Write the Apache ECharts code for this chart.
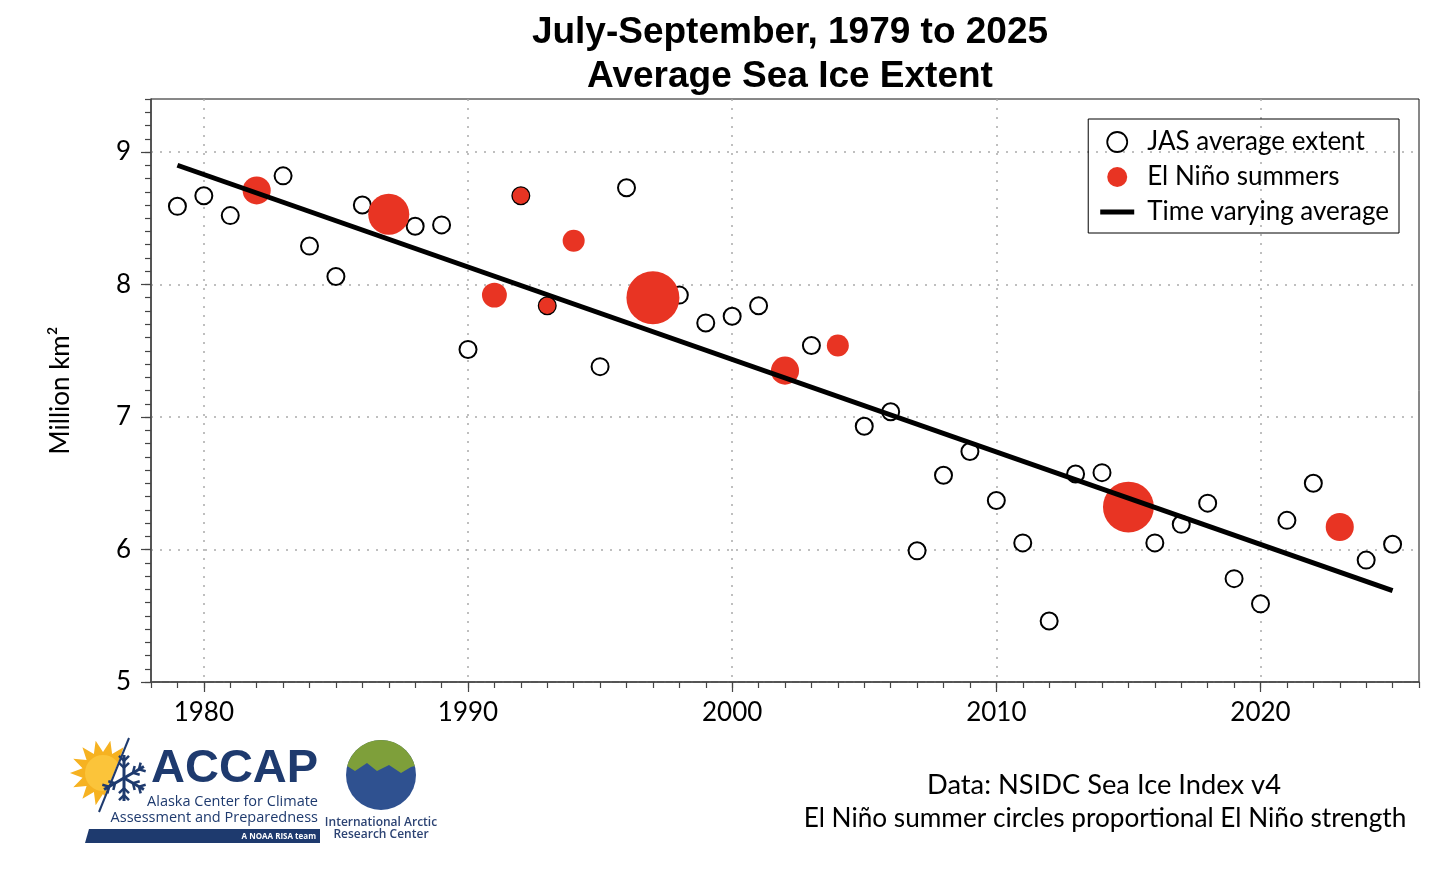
<!DOCTYPE html>
<html lang="en">
<head>
<meta charset="UTF-8">
<title>JAS Sea Ice Extent</title>
<script src="https://cdn.jsdelivr.net/npm/echarts@6.0.0/dist/echarts.min.js"></script>
<style>
    html, body { margin: 0; padding: 0; background: #fff; }
    #main { width: 1456px; height: 874px; }
</style>
</head>
<body>
<div id="main"></div>
<script>
    // July-September average extent, million km2
    var years = [1979, 1980, 1981, 1982, 1983, 1984, 1985, 1986, 1987, 1988,
                 1989, 1990, 1991, 1992, 1993, 1994, 1995, 1996, 1997, 1998,
                 1999, 2000, 2001, 2002, 2003, 2004, 2005, 2006, 2007, 2008,
                 2009, 2010, 2011, 2012, 2013, 2014, 2015, 2016, 2017, 2018,
                 2019, 2020, 2021, 2022, 2023, 2024, 2025];
    var jasExtent = [8.59, 8.67, 8.52, 8.71, 8.82, 8.29, 8.06, 8.60, 8.53, 8.44,
                     8.45, 7.51, 7.92, 8.67, 7.84, 8.33, 7.38, 8.73, 7.90, 7.92,
                     7.71, 7.76, 7.84, 7.35, 7.54, 7.54, 6.93, 7.04, 5.99, 6.56,
                     6.74, 6.37, 6.05, 5.46, 6.57, 6.58, 6.32, 6.05, 6.19, 6.35,
                     5.78, 5.59, 6.22, 6.50, 6.17, 5.92, 6.04];

    // El Nino summers and relative strength (circle diameter ~ strength)
    var elNinoYears = [1982, 1987, 1991, 1992, 1993, 1994, 1997, 2002, 2004, 2015, 2023];
    var elNinoStrength = [1.06, 1.55, 0.94, 0.62, 0.62, 0.83, 2.0, 1.06, 0.83, 1.92, 1.06];

    // time varying average (straight line)
    var trendYears = [1979, 2025];
    var trendValues = [8.90, 5.69];

    var xLabelYears = [1980, 1990, 2000, 2010, 2020];
    var yLabelValues = [5, 6, 7, 8, 9];

    var jasData = years.map(function (y, i) { return [y, jasExtent[i]]; });
    var ninoData = elNinoYears.map(function (y, i) {
        return [y, jasExtent[years.indexOf(y)], elNinoStrength[i]];
    });
    var trendData = trendYears.map(function (y, i) { return [y, trendValues[i]]; });

    var font = 'Lato, "Noto Sans", sans-serif';
    var navy = '#1e3a6e';
    var red = '#e83423';

    // grid box
    var G = { left: 151, right: 37, top: 99, bottom: 192 };
    var gridW = 1456 - G.left - G.right;
    var gridH = 874 - G.top - G.bottom;

    // logo bits (decoration only)
    var logo = [];
    var sc = [103, 773];
    var star = [];
    for (var k = 0; k < 28; k++) {
        var a = Math.PI * 2 * k / 28;
        var r = k % 2 === 0 ? 33 : 21;
        star.push([sc[0] + r * Math.cos(a), sc[1] + r * Math.sin(a)]);
    }
    logo.push({ type: 'polygon', shape: { points: star }, style: { fill: '#f6b221' } });
    logo.push({ type: 'circle', shape: { cx: sc[0], cy: sc[1], r: 18 }, style: { fill: '#fbc43a' } });
    logo.push({ type: 'polygon', shape: { points: [[129, 736], [97, 814], [146, 814], [146, 736]] },
                style: { fill: '#fff' } });
    var fc = [124, 778];
    [-90, -30, 30, 90, 150].forEach(function (deg) {
        var a = deg * Math.PI / 180;
        var ex = fc[0] + 23 * Math.cos(a), ey = fc[1] + 23 * Math.sin(a);
        logo.push({ type: 'line', shape: { x1: fc[0], y1: fc[1], x2: ex, y2: ey },
                    style: { stroke: navy, lineWidth: 3 } });
        [0.45, 0.75].forEach(function (t) {
            var bx = fc[0] + 23 * t * Math.cos(a), by = fc[1] + 23 * t * Math.sin(a);
            [-0.8, 0.8].forEach(function (s) {
                logo.push({ type: 'line', shape: { x1: bx, y1: by,
                    x2: bx + 7 * Math.cos(a + s), y2: by + 7 * Math.sin(a + s) },
                    style: { stroke: navy, lineWidth: 2.5 } });
            });
        });
    });
    logo.push({ type: 'line', shape: { x1: 129, y1: 738, x2: 99, y2: 812 },
                style: { stroke: navy, lineWidth: 2 } });
    logo.push({ type: 'text', left: 151, top: 746,
                style: { text: 'ACCAP', font: 'bold 47px "Liberation Sans", Arial, sans-serif', fill: navy } });
    logo.push({ type: 'text', x: 318, y: 802,
                style: { text: 'Alaska Center for Climate', font: '14.5px "Open Sans", sans-serif',
                         fill: navy, align: 'right', verticalAlign: 'middle' } });
    logo.push({ type: 'text', x: 318, y: 818,
                style: { text: 'Assessment and Preparedness', font: '14.5px "Open Sans", sans-serif',
                         fill: navy, align: 'right', verticalAlign: 'middle' } });
    logo.push({ type: 'polygon', shape: { points: [[89, 829], [320, 829], [320, 843], [85, 843]] },
                style: { fill: navy } });
    logo.push({ type: 'text', x: 316, y: 837,
                style: { text: 'A NOAA RISA team', font: 'bold 8px "Open Sans", sans-serif',
                         fill: '#fff', align: 'right', verticalAlign: 'middle' } });
    // globe
    var gc = [381, 775];
    logo.push({ type: 'circle', shape: { cx: gc[0], cy: gc[1], r: 35 }, style: { fill: '#2f5190' } });
    var land = [];
    for (var d = 195; d <= 345; d += 5) {
        var ra = d * Math.PI / 180;
        land.push([gc[0] + 35 * Math.cos(ra), gc[1] + 35 * Math.sin(ra)]);
    }
    land.push([gc[0] + 30, gc[1] - 8], [gc[0] + 20, gc[1] - 2], [gc[0] + 8, gc[1] - 10],
              [gc[0] - 4, gc[1] - 4], [gc[0] - 14, gc[1] - 12], [gc[0] - 26, gc[1] - 4]);
    logo.push({ type: 'polygon', shape: { points: land }, style: { fill: '#7e9f3a' } });
    logo.push({ type: 'text', x: gc[0], y: 823,
                style: { text: 'International Arctic', font: '600 12px "Open Sans", sans-serif',
                         fill: '#2c4373', align: 'center', verticalAlign: 'middle' } });
    logo.push({ type: 'text', x: gc[0], y: 835,
                style: { text: 'Research Center', font: '600 12px "Open Sans", sans-serif',
                         fill: '#2c4373', align: 'center', verticalAlign: 'middle' } });

    var footer = [
        { type: 'text', x: 1104, y: 785,
          style: { text: 'Data: NSIDC Sea Ice Index v4', font: '27.3px ' + font,
                   fill: '#000', align: 'center', verticalAlign: 'middle' } },
        { type: 'text', x: 1105, y: 819,
          style: { text: 'El Niño summer circles proportional El Niño strength', font: '26.2px ' + font,
                   fill: '#000', align: 'center', verticalAlign: 'middle' } }
    ];

    var chart = echarts.init(document.getElementById('main'));
    var option = {
        animation: false,
        title: {
            text: 'July-September, 1979 to 2025\nAverage Sea Ice Extent',
            left: 785,
            top: 6,
            textAlign: 'center',
            textStyle: {
                fontFamily: '"Liberation Sans", Arial, sans-serif',
                fontWeight: 'bold',
                fontSize: 37,
                lineHeight: 44,
                color: '#000'
            }
        },
        legend: {
            orient: 'vertical',
            right: 57,
            top: 119,
            padding: [10, 10, 8, 12],
            itemWidth: 34,
            itemHeight: 20,
            itemGap: 9,
            borderColor: '#000',
            borderWidth: 1,
            selectedMode: false,
            textStyle: { fontFamily: font, fontSize: 26, lineHeight: 24, color: '#000', padding: [0, 0, 0, 8] },
            data: [
                { name: 'JAS average extent', icon: 'circle',
                  itemStyle: { color: '#fff', borderColor: '#000', borderWidth: 1.8 } },
                { name: 'El Niño summers', icon: 'circle', itemStyle: { color: red, borderWidth: 0 } },
                { name: 'Time varying average', icon: 'path://M0,0H7V1H0Z',
                  itemStyle: { color: '#000', borderWidth: 0 } }
            ]
        },
        grid: {
            left: G.left, right: G.right, top: G.top, bottom: G.bottom,
            show: true, borderColor: '#111', borderWidth: 1
        },
        xAxis: [
            {   // yearly ticks + labels
                type: 'value', min: 1978, max: 2026, interval: 1, position: 'bottom',
                axisLine: { lineStyle: { color: '#444', width: 1.5 } },
                axisTick: { length: 6, lineStyle: { color: '#444', width: 1.2 } },
                axisLabel: { customValues: xLabelYears, margin: 18, fontSize: 26,
                             fontFamily: font, color: '#000',
                             formatter: function (v) { return String(v); } },
                splitLine: { show: false }
            },
            {   // decade ticks and grid lines, moved down onto the bottom edge
                type: 'value', min: 1978, max: 2026, interval: 1, position: 'top', offset: -gridH,
                axisLine: { show: false },
                axisTick: { inside: true, length: 10, customValues: xLabelYears,
                            lineStyle: { color: '#444', width: 1.2 } },
                axisLabel: { show: false },
                splitLine: { show: true, lineStyle: { color: '#aaa', width: 1.5, type: [2, 7] } }
            }
        ],
        yAxis: [
            {
                type: 'value', min: 5, max: 9.4, interval: 0.1, position: 'left',
                name: 'Million km²', nameLocation: 'middle', nameGap: 77, nameRotate: 90,
                nameTextStyle: { fontFamily: font, fontSize: 26, color: '#000' },
                axisLine: { lineStyle: { color: '#444', width: 1.5 } },
                axisTick: { length: 6, lineStyle: { color: '#444', width: 1.2 } },
                axisLabel: { customValues: yLabelValues, margin: 20, fontSize: 26,
                             fontFamily: font, color: '#000' },
                splitLine: { show: false }
            },
            {
                type: 'value', min: 5, max: 9.4, interval: 0.1, position: 'right', offset: -gridW,
                axisLine: { show: false },
                axisTick: { inside: true, length: 10, customValues: yLabelValues,
                            lineStyle: { color: '#444', width: 1.2 } },
                axisLabel: { show: false },
                splitLine: { show: true, lineStyle: { color: '#aaa', width: 1.5, type: [2, 7] } }
            }
        ],
        series: [
            {
                name: 'JAS average extent',
                type: 'scatter',
                data: jasData,
                symbol: 'circle',
                symbolSize: 17,
                itemStyle: { color: '#fff', borderColor: '#000', borderWidth: 2, opacity: 1 },
                emphasis: { disabled: true },
                z: 2
            },
            {
                name: 'El Niño summers',
                type: 'scatter',
                data: ninoData,
                symbol: 'circle',
                symbolSize: function (v) { return v[2] * 26.5; },
                itemStyle: { color: red, opacity: 1 },
                emphasis: { disabled: true },
                z: 3
            },
            {
                name: 'Time varying average',
                type: 'line',
                data: trendData,
                symbol: 'none',
                color: '#000',
                lineStyle: { color: '#000', width: 5 },
                emphasis: { disabled: true },
                z: 4
            }
        ],
        graphic: logo.concat(footer)
    };
    chart.setOption(option);
</script>
</body>
</html>
